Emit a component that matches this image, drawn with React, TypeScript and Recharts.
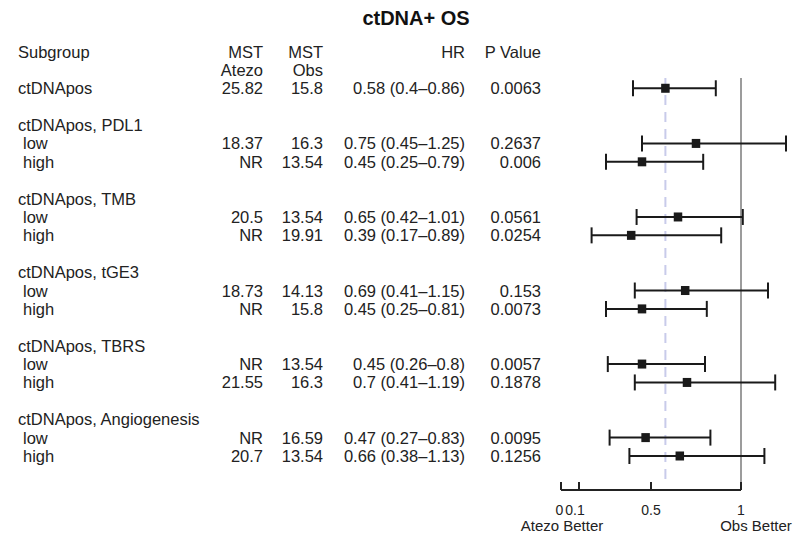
import React from 'react';
import { ScatterChart, Scatter, XAxis, YAxis, ErrorBar, ReferenceLine } from 'recharts';

// ctDNA+ overall survival, hazard ratios by subgroup
const groupHeaders = ['ctDNApos, PDL1', 'ctDNApos, TMB', 'ctDNApos, tGE3', 'ctDNApos, TBRS', 'ctDNApos, Angiogenesis'];
const subgroups = ['ctDNApos', 'low', 'high', 'low', 'high', 'low', 'high', 'low', 'high', 'low', 'high'];
const mstAtezo = ['25.82', '18.37', 'NR', '20.5', 'NR', '18.73', 'NR', 'NR', '21.55', 'NR', '20.7'];
const mstObs = ['15.8', '16.3', '13.54', '13.54', '19.91', '14.13', '15.8', '13.54', '16.3', '16.59', '13.54'];
const hr = [0.58, 0.75, 0.45, 0.65, 0.39, 0.69, 0.45, 0.45, 0.7, 0.47, 0.66];
const ciLow = [0.4, 0.45, 0.25, 0.42, 0.17, 0.41, 0.25, 0.26, 0.41, 0.27, 0.38];
const ciHigh = [0.86, 1.25, 0.79, 1.01, 0.89, 1.15, 0.81, 0.8, 1.19, 0.83, 1.13];
const pValues = ['0.0063', '0.2637', '0.006', '0.0561', '0.0254', '0.153', '0.0073', '0.0057', '0.1878', '0.0095', '0.1256'];
const xTicks = [0, 0.1, 0.5, 1];

const FONT = '"Liberation Sans", Arial, Helvetica, sans-serif';
const TEXT = '#222';
const AXIS_ROW = 23.85;

// row 0/1 = column headers, row 2 = overall, then 4 rows per group (header, low, high, gap)
const rowOf = (i: number) => (i === 0 ? 2 : 5 + 4 * Math.floor((i - 1) / 2) + ((i - 1) % 2));

type TableRow = {
  label?: string;
  indent?: boolean;
  atezo?: string;
  obs?: string;
  hr?: string;
  p?: string;
};

const table = new Map<number, TableRow>();
table.set(0, { label: 'Subgroup', atezo: 'MST', obs: 'MST', hr: 'HR', p: 'P Value' });
table.set(1, { atezo: 'Atezo', obs: 'Obs' });
groupHeaders.forEach((g, k) => table.set(4 + 4 * k, { label: g }));
subgroups.forEach((s, i) => {
  table.set(rowOf(i), {
    label: s,
    indent: i > 0,
    atezo: mstAtezo[i],
    obs: mstObs[i],
    hr: `${hr[i]} (${ciLow[i]}\u2013${ciHigh[i]})`,
    p: pValues[i],
  });
});
const tableRows = Array.from(table.keys()).sort((a, b) => a - b);

const points = subgroups.map((s, i) => ({
  name: s,
  row: rowOf(i),
  hr: hr[i],
  err: [hr[i] - ciLow[i], ciHigh[i] - hr[i]],
}));

const RowTick = (props: any) => {
  const { y, payload } = props;
  const r = table.get(payload.value);
  if (!r) return <g />;
  const ty = y + 6;
  return (
    <g fontFamily={FONT} fontSize={16.5} fill={TEXT}>
      {r.label && (
        <text x={r.indent ? 23 : 18} y={ty}>
          {r.label}
        </text>
      )}
      {r.atezo && (
        <text x={263} y={ty} textAnchor="end">
          {r.atezo}
        </text>
      )}
      {r.obs && (
        <text x={323} y={ty} textAnchor="end">
          {r.obs}
        </text>
      )}
      {r.hr && (
        <text x={465} y={ty} textAnchor="end">
          {r.hr}
        </text>
      )}
      {r.p && (
        <text x={541} y={ty} textAnchor="end">
          {r.p}
        </text>
      )}
    </g>
  );
};

const AxisTick = (props: any) => {
  const { x, y, payload } = props;
  const v = payload.value;
  // nudge 0 and 0.1 apart so they don't run together
  const dx = v === 0 ? -1.5 : v === 0.1 ? -4 : 0;
  return (
    <g fontFamily={FONT} fill={TEXT}>
      <line x1={x} x2={x} y1={y - 8} y2={y} stroke={TEXT} strokeWidth={2} />
      <text x={x + dx} y={y + 25} textAnchor="middle" fontSize={14}>
        {v}
      </text>
      {v === 0 && (
        <text x={x + 1} y={y + 41} textAnchor="middle" fontSize={15}>
          Atezo Better
        </text>
      )}
      {v === 1 && (
        <text x={x + 15} y={y + 41} textAnchor="middle" fontSize={15}>
          Obs Better
        </text>
      )}
    </g>
  );
};

const SquareDot = (props: any) => {
  const { cx, cy } = props;
  return <rect x={cx - 4.25} y={cy - 4.5} width={8.5} height={9} fill="#1a1a1a" />;
};

export default function App() {
  return (
    <div style={{ position: 'absolute', left: 0, top: 0, width: 798, height: 539, background: '#fff' }}>
      <svg width={798} height={40} style={{ position: 'absolute', left: 0, top: 0 }}>
        <text x={416} y={25} textAnchor="middle" fontFamily={FONT} fontSize={20} fontWeight="bold" fill="#111">
          ctDNA+ OS
        </text>
      </svg>
      <ScatterChart width={798} height={539} margin={{ top: 51.5, right: 12, bottom: 0, left: 0 }}>
        <XAxis
          type="number"
          dataKey="hr"
          domain={[0, 1.25]}
          ticks={xTicks}
          interval={0}
          axisLine={false}
          tickLine={false}
          tickSize={0}
          tickMargin={0}
          height={49}
          tick={<AxisTick />}
        />
        <YAxis
          type="number"
          dataKey="row"
          domain={[0, AXIS_ROW]}
          reversed
          ticks={tableRows}
          interval={0}
          axisLine={false}
          tickLine={false}
          width={561}
          tick={<RowTick />}
        />
        <ReferenceLine
          segment={[{ x: hr[0], y: 1.44 }, { x: hr[0], y: 23.4 }]}
          stroke="#c8cbea"
          strokeWidth={2}
          strokeDasharray="10 7"
          ifOverflow="visible"
        />
        <ReferenceLine
          segment={[{ x: 1, y: 1.44 }, { x: 1, y: AXIS_ROW }]}
          stroke="#9c9c9c"
          strokeWidth={2}
          ifOverflow="visible"
        />
        <ReferenceLine
          segment={[{ x: 0, y: AXIS_ROW }, { x: 1, y: AXIS_ROW }]}
          stroke={TEXT}
          strokeWidth={2}
          ifOverflow="visible"
        />
        <Scatter data={points} shape={<SquareDot />} isAnimationActive={false}>
          <ErrorBar dataKey="err" direction="x" width={8} stroke="#1a1a1a" strokeWidth={2} isAnimationActive={false} />
        </Scatter>
      </ScatterChart>
    </div>
  );
}
